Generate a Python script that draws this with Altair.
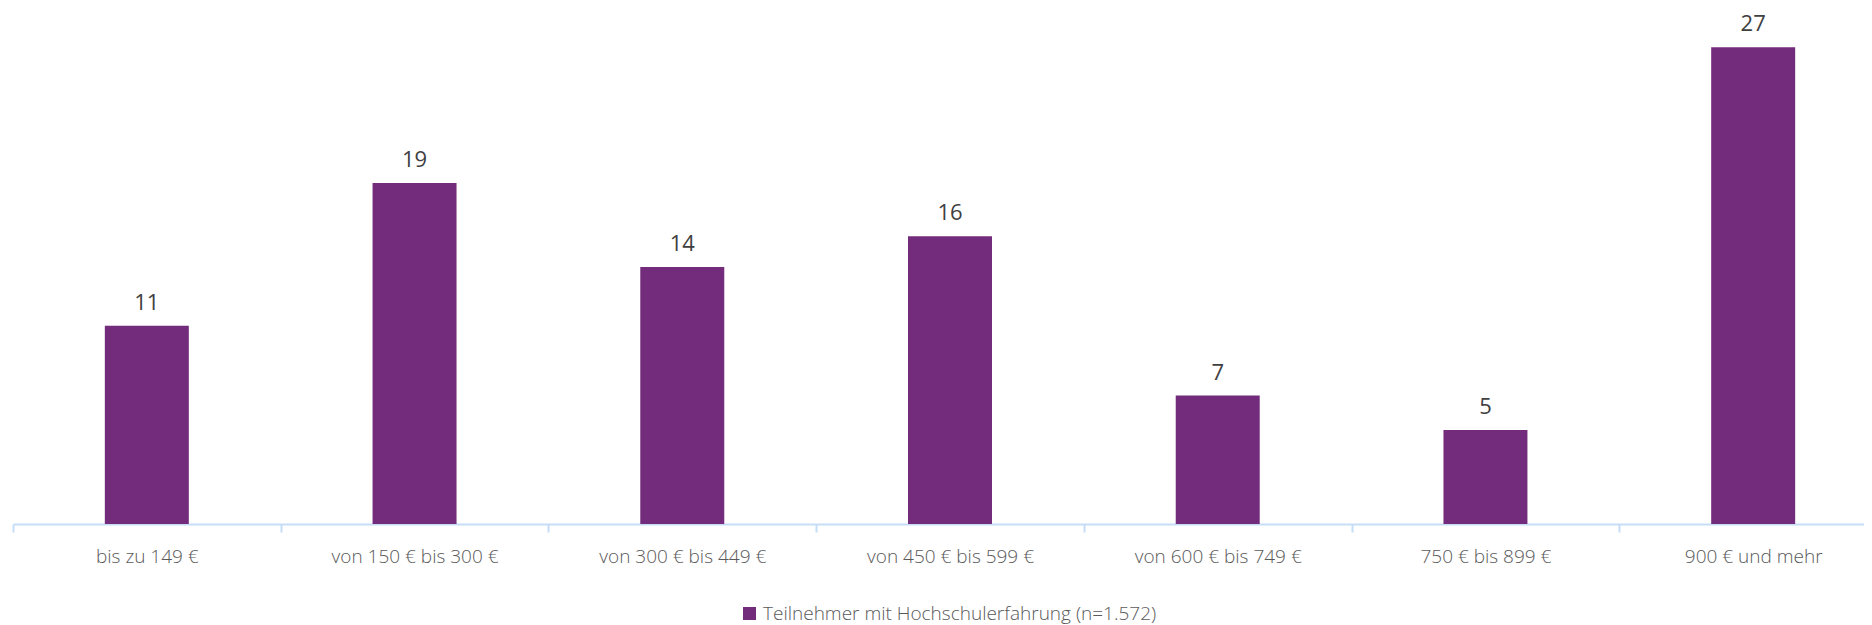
import altair as alt
import pandas as pd

categories = ["bis zu 149 €", "von 150 € bis 300 €", "von 300 € bis 449 €",
              "von 450 € bis 599 €", "von 600 € bis 749 €", "750 € bis 899 €",
              "900 € und mehr"]
values = [11.12, 19.13, 14.41, 16.14, 7.20, 5.27, 26.74]
series_name = "Teilnehmer mit Hochschulerfahrung (n=1.572)"

df = pd.DataFrame({"cat": categories, "val": values, "series": [series_name] * len(values)})

FONT = "Open Sans"
BAR = "#732B7B"
AXC = "#C5DDF6"
HALF_STEP = 1874 / 7.0 / 2

x = alt.X("cat:N", sort=categories, title=None,
          scale=alt.Scale(paddingInner=0.6863, paddingOuter=0.343, range=[0, 1874]),
          axis=alt.Axis(labelAngle=0, labelFont=FONT, labelFontSize=19, labelColor="#595959",
                        labelBaseline="middle", labelPadding=24, tickSize=8, tickWidth=2,
                        domainColor=AXC, tickColor=AXC, domainWidth=2,
                        tickOffset=-HALF_STEP, labelOffset=HALF_STEP,
                        labelFontWeight=300, labelLimit=0))
y = alt.Y("val:Q", title=None, scale=alt.Scale(domain=[0, 28.94], nice=False), axis=None)

bars = alt.Chart(df).mark_bar(color=BAR).encode(
    x=x, y=y,
    color=alt.Color("series:N", scale=alt.Scale(range=[BAR]), title=None,
                    legend=alt.Legend(orient="none", legendX=727, legendY=596,
                                      symbolType="square", symbolSize=170, symbolStrokeWidth=0,
                                      labelFont=FONT, labelFontSize=19, labelColor="#595959",
                                      labelFontWeight=300, labelOffset=4, labelLimit=0,
                                      padding=0))
)
labels = alt.Chart(df).mark_text(dy=-16, baseline="alphabetic", font=FONT, fontSize=22,
                                 color="#404040").encode(
    x=x, y=y, text=alt.Text("val:Q", format=".0f"))

chart = (bars + labels).properties(
    width=1851, height=516,
    autosize=alt.AutoSizeParams(type="none"),
    padding={"left": 5, "top": 0, "right": 0, "bottom": 101},
).configure_view(stroke=None)

chart.save("out.html", embed_options={"renderer": "svg", "actions": False})
